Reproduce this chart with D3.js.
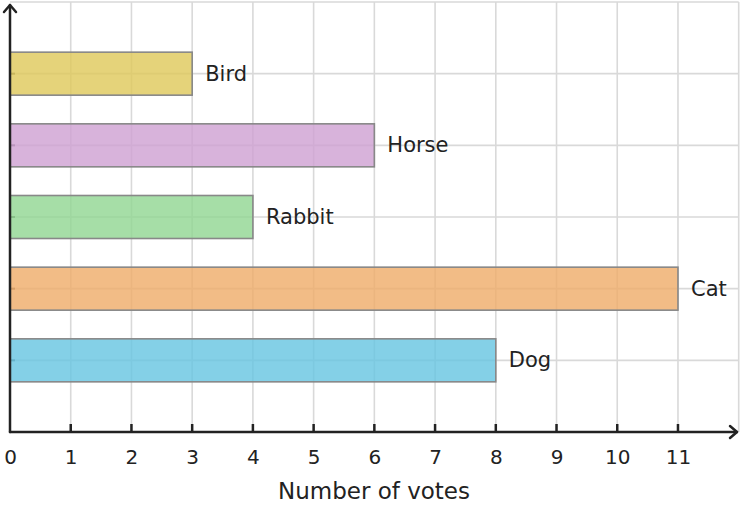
<!DOCTYPE html>
<html>
<head>
<meta charset="utf-8">
<script src="https://cdn.jsdelivr.net/npm/d3@7"></script>
<style>
  body { margin: 0; background: #fff; }
  svg { display: block; font-family: "DejaVu Sans", sans-serif; }
</style>
</head>
<body>
<div id="chart-area"></div>
<script>
// data
var animals = ["Dog", "Cat", "Rabbit", "Horse", "Bird"];
var votes = [8, 11, 4, 6, 3];
var barColors = ["#65c4e1", "#efab68", "#90d691", "#cea0d2", "#dec859"];
var xTicks = [0, 1, 2, 3, 4, 5, 6, 7, 8, 9, 10, 11];

var width = 742, height = 508;

var svg = d3.select("#chart-area").append("svg")
	.attr("width", width)
	.attr("height", height);

// 0 sits at 10px, 11 at 678px
var x = d3.scaleLinear().domain([0, 12]).range([10, 738.7]);
// categories sit on whole numbers 1..5, top of grid at 6
var y = d3.scaleLinear().domain([0, 6]).range([432, 2]);

var grid = svg.append("g").attr("stroke", "#d9d9d9").attr("stroke-width", 1.6);

grid.selectAll("line.v")
	.data(d3.range(1, 13))
	.enter().append("line")
		.attr("x1", function(d){ return x(d); })
		.attr("x2", function(d){ return x(d); })
		.attr("y1", y(0))
		.attr("y2", y(6));

grid.selectAll("line.h")
	.data(d3.range(1, 7))
	.enter().append("line")
		.attr("x1", x(0))
		.attr("x2", x(12))
		.attr("y1", function(d){ return y(d); })
		.attr("y2", function(d){ return y(d); });

// small y ticks (show faintly through the bars)
svg.selectAll("line.ytick")
	.data(animals)
	.enter().append("line")
		.attr("x1", x(0))
		.attr("x2", x(0) + 5)
		.attr("y1", function(d, i){ return y(i + 1); })
		.attr("y2", function(d, i){ return y(i + 1); })
		.attr("stroke", "#666")
		.attr("stroke-width", 2);

var barHalf = 0.3;

svg.selectAll("rect.bar")
	.data(votes)
	.enter().append("rect")
		.attr("x", x(0))
		.attr("y", function(d, i){ return y(i + 1 + barHalf); })
		.attr("width", function(d){ return x(d) - x(0); })
		.attr("height", function(d, i){ return y(i + 1 - barHalf) - y(i + 1 + barHalf); })
		.attr("fill", function(d, i){ return barColors[i]; })
		.attr("fill-opacity", 0.8)
		.attr("stroke", "#888")
		.attr("stroke-width", 1.6);

svg.selectAll("text.label")
	.data(animals)
	.enter().append("text")
		.attr("x", function(d, i){ return x(votes[i]) + 13; })
		.attr("y", function(d, i){ return y(i + 1); })
		.attr("dy", "0.33em")
		.attr("font-size", 21)
		.attr("fill", "#222")
		.text(function(d){ return d; });

// x axis
var xAxis = d3.axisBottom(x)
	.tickValues(xTicks)
	.tickSize(0)
	.tickPadding(18)
	.tickFormat(d3.format("d"));

var gx = svg.append("g")
	.attr("transform", "translate(0," + y(0) + ")")
	.call(xAxis);
gx.select(".domain").remove();
gx.selectAll("text")
	.attr("font-size", 20)
	.attr("fill", "#222")
	.attr("font-family", "DejaVu Sans, sans-serif");

svg.selectAll("line.xtick")
	.data(xTicks.slice(1))
	.enter().append("line")
		.attr("x1", function(d){ return x(d); })
		.attr("x2", function(d){ return x(d); })
		.attr("y1", y(0))
		.attr("y2", y(0) - 8)
		.attr("stroke", "#222")
		.attr("stroke-width", 2.5);

// axis lines with arrow heads
var axisStyle = function(sel){
	sel.attr("stroke", "#222").attr("stroke-width", 2.5).attr("fill", "none")
		.attr("stroke-linecap", "round").attr("stroke-linejoin", "round");
};

svg.append("path")
	.attr("d", "M" + x(0) + "," + y(0) + "H" + (width - 5))
	.call(axisStyle);
svg.append("path")
	.attr("d", "M" + (width - 12) + "," + (y(0) - 6) + "L" + (width - 5) + "," + y(0) + "L" + (width - 12) + "," + (y(0) + 6))
	.call(axisStyle);

svg.append("path")
	.attr("d", "M" + x(0) + "," + y(0) + "V5")
	.call(axisStyle);
svg.append("path")
	.attr("d", "M" + (x(0) - 6) + ",12L" + x(0) + ",5L" + (x(0) + 6) + ",12")
	.call(axisStyle);

svg.append("text")
	.attr("x", 374)
	.attr("y", 499)
	.attr("text-anchor", "middle")
	.attr("font-size", 23)
	.attr("fill", "#222")
	.text("Number of votes");
</script>
</body>
</html>
